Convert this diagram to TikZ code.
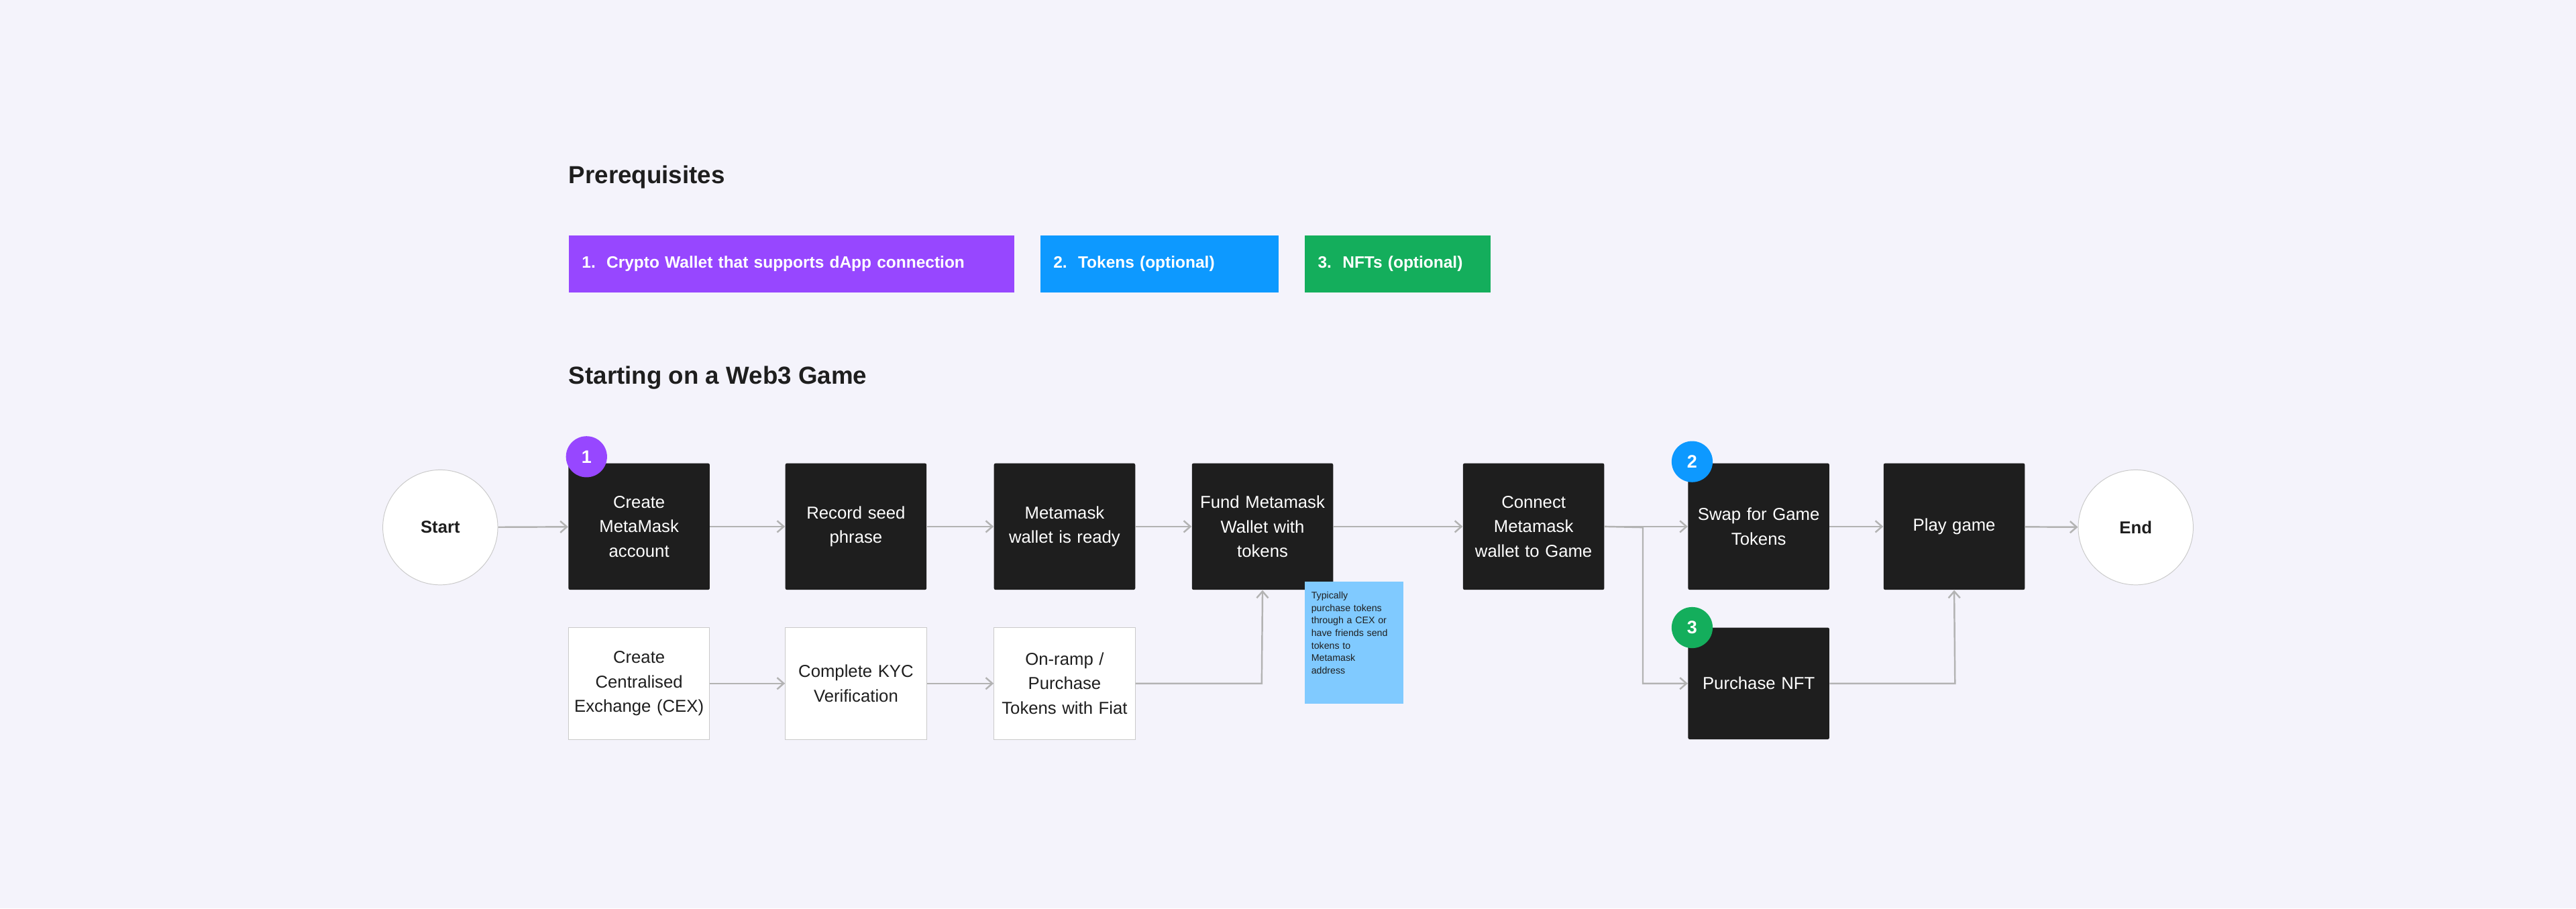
\documentclass[tikz,border=0pt]{standalone}
\usepackage{fontspec}
\setmainfont{Liberation Sans}
\usetikzlibrary{arrows.meta}
\definecolor{bg}{HTML}{F4F3FB}
\definecolor{blk}{HTML}{1E1E1E}
\definecolor{purp}{HTML}{9747FF}
\definecolor{blu}{HTML}{0D99FF}
\definecolor{grn}{HTML}{14AE5C}
\definecolor{sticky}{HTML}{80CAFF}
\definecolor{ln}{HTML}{B3B3B3}
\begin{document}
\begin{tikzpicture}[x=1pt,y=-1pt,
  dark/.style={fill=blk,text=white,minimum width=86pt,minimum height=77pt,align=center,text width=80pt,font=\fontsize{10.5}{15}\selectfont,inner sep=0pt,rounded corners=1pt},
  light/.style={fill=white,draw=ln!70,text=blk,minimum width=86pt,minimum height=68pt,align=center,text width=82pt,font=\fontsize{10.5}{15}\selectfont,inner sep=0pt},
  term/.style={circle,fill=white,draw=ln!70,minimum size=70pt,font=\bfseries\fontsize{10.5}{12}\selectfont,text=blk},
  pre/.style={text=white,font=\bfseries\fontsize{10}{12}\selectfont,minimum height=35pt,anchor=north west,inner sep=0pt,align=left},
  badge/.style={circle,text=white,minimum size=25pt,inner sep=0pt,font=\bfseries\fontsize{11}{12}\selectfont},
  con/.style={draw=ln,line width=1pt,-{Straight Barb[length=4pt,width=7pt]}},
  head/.style={anchor=west,inner sep=0pt,font=\bfseries\fontsize{15}{18}\selectfont,text=blk}]
\fill[bg] (0,0) rectangle (1568,553);
\node[head] (h1) at (346,108) {Prerequisites};
\node[head] (h2) at (346,230) {Starting on a Web3 Game};
\node[pre,fill=purp,text width=271pt] (p1) at (346,143) {\hspace*{8pt}1.\ \ Crypto Wallet that supports dApp connection};
\node[pre,fill=blu,text width=145pt] (p2) at (633,143) {\hspace*{8pt}2.\ \ Tokens (optional)};
\node[pre,fill=grn,text width=113pt] (p3) at (794,143) {\hspace*{8pt}3.\ \ NFTs (optional)};

\node[term] (start) at (268,321) {Start};
\node[dark] (create) at (389,320.5) {Create\\MetaMask\\account};
\node[dark] (seed) at (521,320.5) {Record seed\\phrase};
\node[dark] (ready) at (648,320.5) {Metamask\\wallet is ready};
\node[dark] (fund) at (768.5,320.5) {Fund Metamask\\Wallet with\\tokens};
\node[dark] (connect) at (933.5,320.5) {Connect\\Metamask\\wallet to Game};
\node[dark] (swap) at (1070.5,320.5) {Swap for Game\\Tokens};
\node[dark] (play) at (1189.5,320.5) {\raisebox{-2pt}{Play game}};
\node[term] (end) at (1300,321) {End};
\node[light] (cex) at (389,416) {Create\\Centralised\\Exchange (CEX)};
\node[light] (kyc) at (521,416) {Complete KYC\\Verification};
\node[light] (ramp) at (648,416) {On-ramp /\\Purchase\\Tokens with Fiat};
\node[dark,minimum height=68pt] (nft) at (1070.5,416) {Purchase NFT};
\node[fill=sticky,minimum width=60pt,minimum height=74pt,text width=52pt,align=left,anchor=north west,inner xsep=4pt,inner ysep=5pt,font=\fontsize{5.8}{7.6}\selectfont,text=blk] (note) at (794,354) {Typically\\purchase tokens\\through a CEX or\\have friends send\\tokens to\\Metamask\\address\par\vspace*{12pt}};
\node[badge,fill=purp] (b1) at (357,278) {1};
\node[badge,fill=blu] (b2) at (1030,281) {2};
\node[badge,fill=grn] (b3) at (1030,382) {3};

\coordinate (j1) at (1000,321);
\coordinate (j2) at (768,416);
\coordinate (j3) at (1190,416);
\draw[con] (start) -- (create);
\draw[con] (create) -- (seed);
\draw[con] (seed) -- (ready);
\draw[con] (ready) -- (fund);
\draw[con] (fund) -- (connect);
\draw[con] (connect) -- (swap);
\draw[con] (swap) -- (play);
\draw[con] (play) -- (end);
\draw[con] (connect.east) -- (j1) |- (nft.west);
\draw[con] (cex) -- (kyc);
\draw[con] (kyc) -- (ramp);
\draw[con] (ramp.east) -- (j2) -- (fund.south);
\draw[con] (nft.east) -- (j3) -- (play.south);
\end{tikzpicture}
\end{document}
